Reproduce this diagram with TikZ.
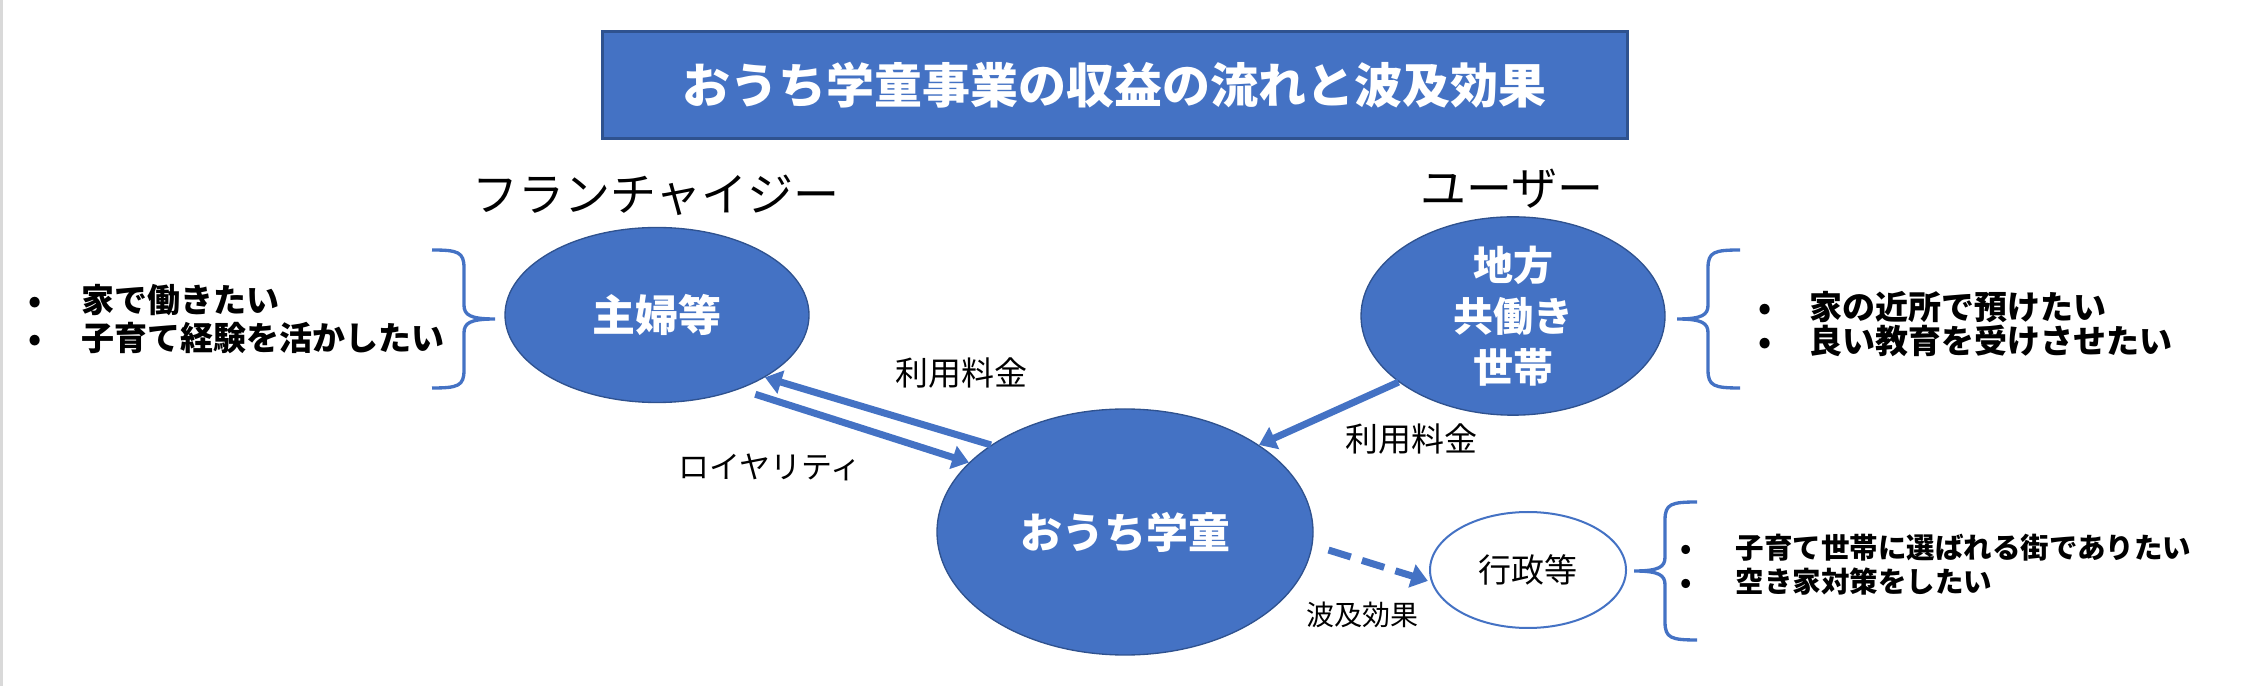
\documentclass[tikz,border=0pt]{standalone}
\usepackage{fontspec}
\setmainfont{Noto Sans CJK JP}
\usetikzlibrary{positioning,arrows.meta,shapes.geometric}
\definecolor{OfcBlue}{HTML}{4472C4}
\definecolor{OfcEdge}{HTML}{2F528F}
\newcommand\bul[2][16pt]{\makebox[#1][l]{•}#2}

\begin{document}
\begin{tikzpicture}[
  x=0.3pt,y=-0.3pt,
  blob/.style={ellipse,draw=OfcEdge,line width=0.4pt,fill=OfcBlue,text=white,inner sep=0pt,
               align=center,font=\bfseries\fontsize{12.9pt}{15.3pt}\selectfont},
  lbl/.style={inner sep=0pt,font=\fontsize{9.9pt}{12pt}\selectfont},
  lst/.style={anchor=west,align=left,inner sep=0pt,font=\bfseries\fontsize{9.9pt}{11.4pt}\selectfont},
  ar/.style={-{Triangle[length=5pt,width=7pt]},draw=OfcBlue,line width=2.1pt},
  pics/curl/.style={code={
    \draw[OfcBlue,line width=1pt] (-63,-69) .. controls (-37,-69) and (-31,-67) .. (-31,-51) -- (-31,-14)
      .. controls (-31,-4) and (-25,0) .. (0,0) .. controls (-25,0) and (-31,4) .. (-31,14) -- (-31,51)
      .. controls (-31,67) and (-37,69) .. (-63,69);}},
]
\useasboundingbox (0,0) rectangle (2262,686);
\fill[gray!30] (0,0) rectangle (3,686);

% title
\node[draw=OfcEdge,line width=0.9pt,fill=OfcBlue,text=white,minimum width=307.5pt,minimum height=32.1pt,
  font=\bfseries\fontsize{14.4pt}{17pt}\selectfont] (ttl) at (1114.5,85.5) {おうち学童事業の収益の流れと波及効果};

% groups
\node[lbl,font=\fontsize{13.8pt}{16pt}\selectfont] (fc) at (656,195) {フランチャイジー};
\node[lbl,font=\fontsize{13.8pt}{16pt}\selectfont] (user) at (1512,189) {ユーザー};

\node[blob,minimum width=91.2pt,minimum height=52.5pt] (shufu) at (657,315) {主婦等};
\node[blob,minimum width=91.2pt,minimum height=52.8pt,font=\bfseries\fontsize{12pt}{15.3pt}\selectfont] (chiho) at (1513,316) {地方\\共働き\\世帯};
\node[blob,minimum width=112.8pt,minimum height=73.8pt,font=\bfseries\fontsize{12.6pt}{15pt}\selectfont] (gakudo) at (1125,532) {おうち学童};
\node[ellipse,draw=OfcBlue,line width=0.6pt,fill=white,minimum width=58.8pt,minimum height=34.8pt,lbl] (gyosei) at (1528,570) {行政等};

% needs
\node[lst] (needA) at (28,319) {\bul{家で働きたい}\\\bul{子育て経験を活かしたい}};
\node[lst,font=\bfseries\fontsize{9.9pt}{10pt}\selectfont] (needB) at (1758,324) {\bul[15.3pt]{家の近所で預けたい}\\\bul[15.3pt]{良い教育を受けさせたい}};
\node[lst,font=\bfseries\fontsize{8.55pt}{10.2pt}\selectfont] (needC) at (1680,565) {\bul[16.5pt]{子育て世帯に選ばれる街でありたい}\\\bul[16.5pt]{空き家対策をしたい}};

\pic at (495,319) {curl};
\pic[xscale=-1] at (1677,319) {curl};
\pic[xscale=-1] at (1634,571) {curl};

% money flows
\draw[ar] (gakudo.147) -- (shufu.-30);
\draw[ar,shorten <=5pt] (shufu.-42) -- (gakudo.156);
\draw[ar] (chiho.-150) -- (gakudo.33);
\draw[ar,dash pattern=on 7pt off 3.5pt,shorten <=5pt,shorten >=1pt] (gakudo.-4) -- (gyosei.187);

\node[lbl] (feeA) at (961,373) {利用料金};
\node[lbl,font=\fontsize{9.3pt}{11pt}\selectfont] (roy) at (770,467) {ロイヤリティ};
\node[lbl] (feeB) at (1411,439) {利用料金};
\node[lbl,font=\fontsize{8.4pt}{10pt}\selectfont] (hakyu) at (1362,615) {波及効果};
\end{tikzpicture}
\end{document}
